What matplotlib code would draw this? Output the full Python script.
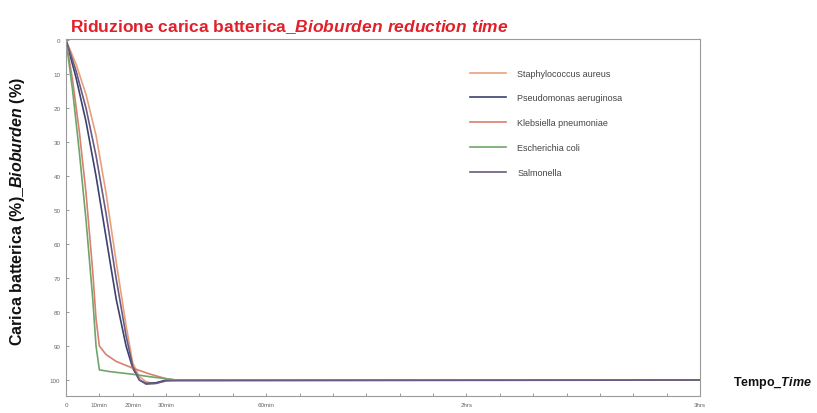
import matplotlib
matplotlib.use("Agg")
import matplotlib.pyplot as plt

plt.rcParams['font.family'] = ['Liberation Sans', 'DejaVu Sans']
plt.rcParams['mathtext.fontset'] = 'custom'
plt.rcParams['mathtext.it'] = 'Liberation Sans:italic:bold'
plt.rcParams['mathtext.rm'] = 'Liberation Sans:bold'

# tempo in minuti
tempo_tick = [0, 10, 20, 30, 60, 120, 190]
tempo_lab = ['0', '10min', '20min', '30min', '60min', '2hrs', '3hrs']
carica_tick = [0, 10, 20, 30, 40, 50, 60, 70, 80, 90, 100]

staph_x = [0, 3, 6, 9, 12, 15, 18, 20, 22, 24, 26, 30, 33, 190]
staph_y = [0, 7, 16, 28, 45, 65, 84, 95, 99, 100.5, 101, 100.3, 100, 100]

pseudo_x = [0, 3, 6, 9, 12, 15, 18, 20, 22, 24, 27, 30, 190]
pseudo_y = [0, 11, 24, 40, 58, 76, 90, 96.5, 100, 101, 100.8, 100, 100]

kleb_x = [0, 2, 4, 6, 8, 9, 10, 12, 15, 20, 25, 30, 33, 190]
kleb_y = [0, 12, 27, 45, 68, 82, 90, 92.5, 94.5, 96.5, 98.2, 99.6, 100, 100]

coli_x = [0, 2, 4, 6, 8, 9, 10, 13, 20, 25, 30, 33, 190]
coli_y = [0, 15, 33, 53, 76, 90, 97, 97.5, 98.3, 99, 99.6, 100, 100]

salm_x = [0, 3, 6, 9, 12, 15, 18, 20, 22, 24, 27, 30, 190]
salm_y = [0, 9, 20, 34, 51, 70, 87, 96, 100, 101.2, 101, 100.2, 100]

fig = plt.figure(figsize=(8.17, 4.14), dpi=100)
ax = fig.add_axes([0.0808, 0.041, 0.776, 0.862])

ax.plot(staph_x, staph_y, color='#e8a07c', lw=1.2, label='Staphylococcus aureus')
ax.plot(pseudo_x, pseudo_y, color='#3b4170', lw=1.2, label='Pseudomonas aeruginosa')
ax.plot(kleb_x, kleb_y, color='#d9806e', lw=1.2, label='Klebsiella pneumoniae')
ax.plot(coli_x, coli_y, color='#6fa56a', lw=1.2, label='Escherichia coli')
ax.plot(salm_x, salm_y, color='#6b5a82', lw=1.2, label='Salmonella')

ax.set_xlim(0, 190)
ax.set_ylim(104.7, -0.3)
ax.set_xticks(range(0, 191, 10))
ax.set_xticklabels([tempo_lab[tempo_tick.index(t)] if t in tempo_tick else '' for t in range(0, 191, 10)])
ax.set_yticks(carica_tick)
ax.tick_params(direction='in', length=2.5, width=0.6, color='#888888',
               labelsize=4.5, labelcolor='#666666', pad=4)
for s in ax.spines.values():
    s.set_color('#9a9a9a')
    s.set_linewidth(0.8)

leg = ax.legend(loc='upper left', bbox_to_anchor=(0.625, 0.94), frameon=False,
                fontsize=6.5, handlelength=4.0, labelspacing=1.75, handletextpad=1.2)
for t in leg.get_texts():
    t.set_color('#444444')

fig.text(0.086, 0.935, r'Riduzione carica batterica_$\it{Bioburden\ reduction\ time}$',
         color='#e0202a', fontsize=12.5, fontweight='bold', va='center', ha='left')
fig.text(0.022, 0.49, r'Carica batterica (%)_$\it{Bioburden}$ (%)',
         color='#111111', fontsize=11.5, fontweight='bold', rotation=90,
         va='center', ha='center')
fig.text(0.993, 0.075, r'Tempo_$\it{Time}$', color='#111111', fontsize=9,
         fontweight='bold', va='center', ha='right')

fig.savefig('out.png', dpi=100)
